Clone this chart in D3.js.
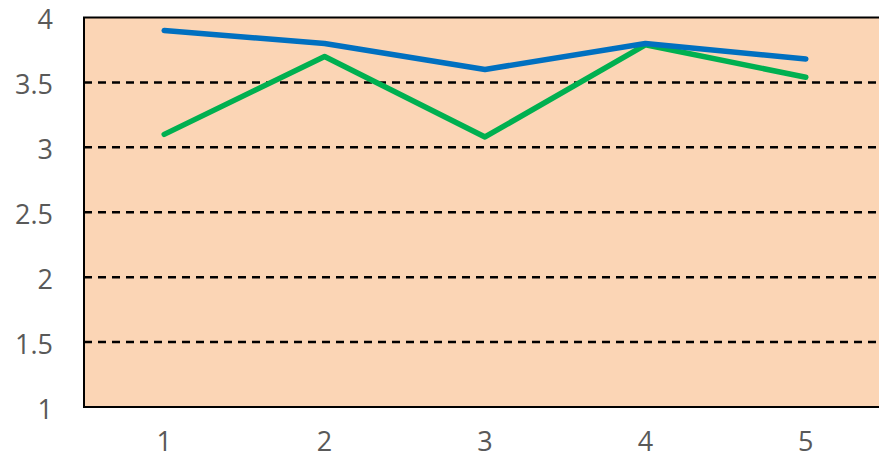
<!DOCTYPE html>
<html>
<head>
<meta charset="utf-8">
<script src="https://cdn.jsdelivr.net/npm/d3@7"></script>
<style>
  body { margin: 0; background: #fff; overflow: hidden; }
  text { font-family: "Open Sans", "Liberation Sans", sans-serif; fill: #595959; }
</style>
</head>
<body>
<svg width="879" height="454"></svg>
<script>
const categories = ["1", "2", "3", "4", "5"];
const blueValues = [3.9, 3.8, 3.6, 3.8, 3.68];
const greenValues = [3.1, 3.7, 3.08, 3.79, 3.54];
const yTicks = [1, 1.5, 2, 2.5, 3, 3.5, 4];

const svg = d3.select("svg");
const plotLeft = 84, plotRight = 886, plotTop = 17.5, plotBottom = 407;

const x = d3.scaleBand().domain(categories).range([plotLeft, plotRight]);
const y = d3.scaleLinear().domain([1, 4]).range([plotBottom, plotTop]);

// plot area
svg.append("rect")
  .attr("x", plotLeft).attr("y", plotTop)
  .attr("width", plotRight - plotLeft).attr("height", plotBottom - plotTop)
  .attr("fill", "#FBD5B5")
  .attr("stroke", "#000").attr("stroke-width", 2);

// dashed gridlines
svg.selectAll(".grid")
  .data(yTicks.filter(d => d > 1 && d < 4))
  .enter().append("line")
  .attr("x1", plotLeft).attr("x2", plotRight)
  .attr("y1", d => y(d)).attr("y2", d => y(d))
  .attr("stroke", "#000").attr("stroke-width", 2.5)
  .attr("stroke-dasharray", "8,6");

// y labels
svg.selectAll(".ylab")
  .data(yTicks)
  .enter().append("text")
  .attr("x", 53).attr("y", d => y(d) + 1)
  .attr("text-anchor", "end")
  .attr("dominant-baseline", "central")
  .style("font-size", "27px")
  .text(d => d);

// x labels
svg.selectAll(".xlab")
  .data(categories)
  .enter().append("text")
  .attr("x", d => x(d) + x.bandwidth() / 2).attr("y", 440)
  .attr("text-anchor", "middle")
  .attr("dominant-baseline", "central")
  .style("font-size", "27px")
  .text(d => d);

const line = d3.line()
  .x((d, i) => x(categories[i]) + x.bandwidth() / 2)
  .y(d => y(d));

svg.append("path").datum(greenValues)
  .attr("d", line).attr("fill", "none")
  .attr("stroke", "#00B050").attr("stroke-width", 5.5)
  .attr("stroke-linecap", "round").attr("stroke-linejoin", "round");

svg.append("path").datum(blueValues)
  .attr("d", line).attr("fill", "none")
  .attr("stroke", "#0070C0").attr("stroke-width", 5.5)
  .attr("stroke-linecap", "round").attr("stroke-linejoin", "round");
</script>
</body>
</html>
